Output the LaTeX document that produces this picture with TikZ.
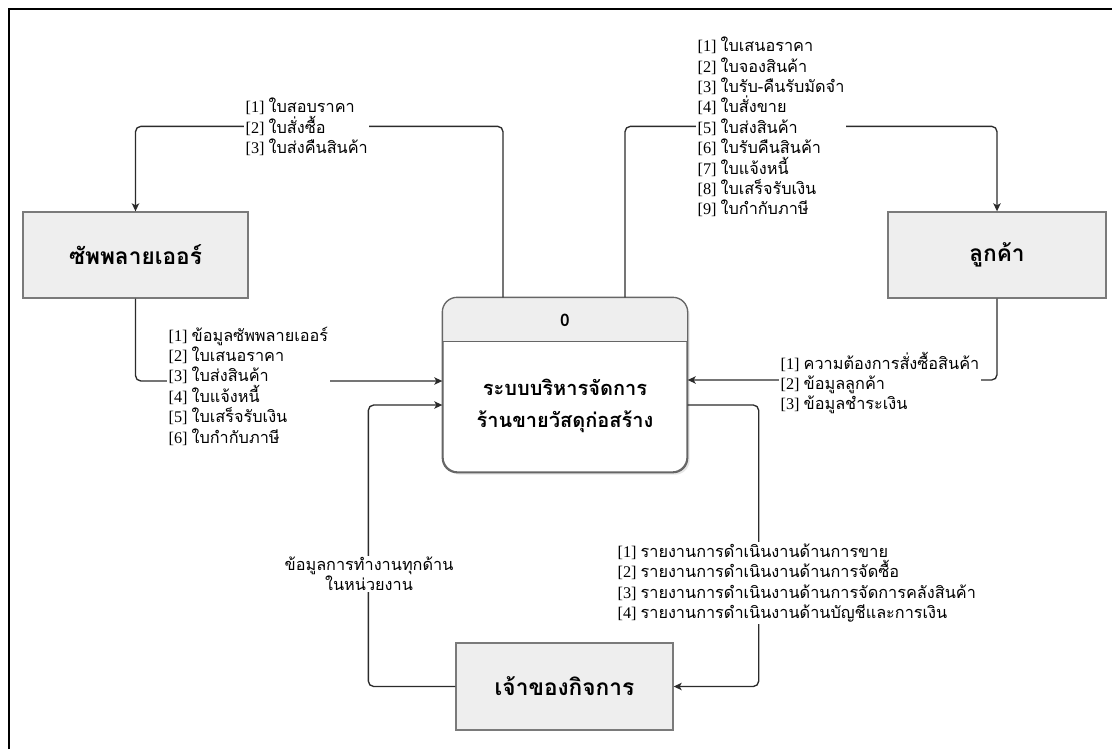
\documentclass[tikz,border=0pt]{standalone}
\usepackage{fontspec}
\setmainfont{Liberation Serif}
\newfontfamily\thaif[Script=Thai]{Loma}
\usetikzlibrary{arrows.meta,calc,shadows}
\definecolor{boxfill}{HTML}{EEEEEE}
\definecolor{boxline}{HTML}{7A7A7A}
\definecolor{procline}{HTML}{666666}
\definecolor{conn}{HTML}{2B2B2B}
\newcommand\lline[2]{[#1]~{\thaif #2}}
\tikzset{
  entity/.style={draw=boxline, fill=boxfill, line width=1pt, inner sep=0pt,
    font=\thaif\bfseries\fontsize{17}{20}\selectfont},
  arr/.style={draw=conn, line width=1pt, rounded corners=4, -{Stealth[length=6pt,width=5.5pt,inset=1.5pt]}},
  lbl/.style={fill=white, inner sep=1pt, align=left, font=\fontsize{12.2}{15.3}\selectfont},
}
\begin{document}
\begin{tikzpicture}[x=0.75pt,y=-0.75pt]
\useasboundingbox (0,0) rectangle (1112,749);
% frame
\draw[line width=1.5pt] (9,749) -- (9,9) -- (1112,9);
% entities
\node[entity, minimum width=168.75pt, minimum height=64.5pt] (sup) at (135.5,255) {ซัพพลายเออร์};
\node[entity, minimum width=163.5pt, minimum height=64.5pt] (cus) at (997,255) {ลูกค้า};
\node[entity, minimum width=162.75pt, minimum height=65.25pt] (own) at (564.5,686.5) {เจ้าของกิจการ};
% process
\node[draw=procline, fill=white, line width=1pt, rounded corners=11pt,
  minimum width=183pt, minimum height=130.5pt, inner sep=0pt,
  drop shadow={opacity=0.2, shadow xshift=2pt, shadow yshift=-2pt}] (proc) at (565,385) {};
\begin{scope}
  \clip (proc.north west) rectangle ($(proc.north east)+(0,44)$);
  \fill[boxfill, rounded corners=11pt] (proc.north west) rectangle (proc.south east);
\end{scope}
\draw[procline, line width=1pt] ($(proc.north west)+(0,44)$) -- ($(proc.north east)+(0,44)$);
\draw[procline, line width=1pt, rounded corners=11pt] (proc.north west) rectangle (proc.south east);
\node[font=\thaif\bfseries\fontsize{13}{16}\selectfont] (pid) at (565,320) {0};
\node[align=center, font=\thaif\bfseries\fontsize{15}{24}\selectfont] (ptitle) at (565,406) {ระบบบริหารจัดการ\\ร้านขายวัสดุก่อสร้าง};
% connectors
\draw[arr] ($(proc.north)+(-62,0)$) |- ($(sup.north)+(0,-85)$) -- (sup.north);
\draw[arr] ($(proc.north)+(60,0)$) |- ($(cus.north)+(0,-85)$) -- (cus.north);
\draw[arr] (cus.south) |- ($(proc.east)+(0,-5)$);
\draw[arr] (sup.south) |- ($(proc.west)+(0,-4)$);
\draw[arr] (own.west) -| ($(proc.west)+(-74,20)$) -- ($(proc.west)+(0,20)$);
\draw[arr] ($(proc.east)+(0,20)$) -| ($(own.east)+(85,0)$) -- (own.east);
% labels
\node[lbl, anchor=west] (l1) at (244,127) {\lline{1}{ใบสอบราคา}\\\lline{2}{ใบสั่งซื้อ}\\\lline{3}{ใบส่งคืนสินค้า}};
\node[lbl, anchor=west] (l2) at (696,127) {\lline{1}{ใบเสนอราคา}\\\lline{2}{ใบจองสินค้า}\\\lline{3}{ใบรับ-คืนรับมัดจำ}\\\lline{4}{ใบสั่งขาย}\\\lline{5}{ใบส่งสินค้า}\\\lline{6}{ใบรับคืนสินค้า}\\\lline{7}{ใบแจ้งหนี้}\\\lline{8}{ใบเสร็จรับเงิน}\\\lline{9}{ใบกำกับภาษี}};
\node[lbl, anchor=west] (l3) at (779,383) {\lline{1}{ความต้องการสั่งซื้อสินค้า}\\\lline{2}{ข้อมูลลูกค้า}\\\lline{3}{ข้อมูลชำระเงิน}};
\node[lbl, anchor=west] (l4) at (167,386) {\lline{1}{ข้อมูลซัพพลายเออร์}\\\lline{2}{ใบเสนอราคา}\\\lline{3}{ใบส่งสินค้า}\\\lline{4}{ใบแจ้งหนี้}\\\lline{5}{ใบเสร็จรับเงิน}\\\lline{6}{ใบกำกับภาษี}};
\node[lbl, anchor=west] (l5) at (616,583) {\lline{1}{รายงานการดำเนินงานด้านการขาย}\\\lline{2}{รายงานการดำเนินงานด้านการจัดซื้อ}\\\lline{3}{รายงานการดำเนินงานด้านการจัดการคลังสินค้า}\\\lline{4}{รายงานการดำเนินงานด้านบัญชีและการเงิน}};
\node[lbl, align=center, font=\thaif\fontsize{12.2}{15.3}\selectfont] (l6) at (369,574) {ข้อมูลการทำงานทุกด้าน\\ในหน่วยงาน};
\end{tikzpicture}
\end{document}
